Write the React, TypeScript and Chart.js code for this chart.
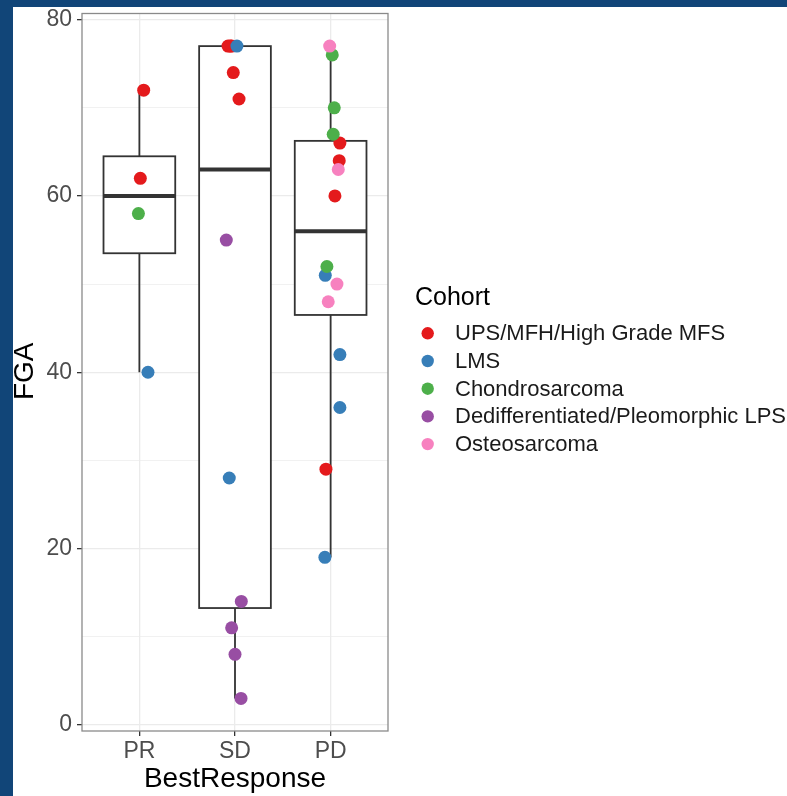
import React, { useEffect, useRef } from 'react';
import { Chart, registerables } from 'chart.js';

Chart.register(...registerables);

const categories = ['PR', 'SD', 'PD'];
const cohortNames = [
  'UPS/MFH/High Grade MFS',
  'LMS',
  'Chondrosarcoma',
  'Dedifferentiated/Pleomorphic LPS',
  'Osteosarcoma',
];
const cohortColors = ['#E41A1C', '#377EB8', '#4DAF4A', '#984EA3', '#F781BF'];

const upsResponse = ['PR', 'PR', 'SD', 'SD', 'SD', 'SD', 'SD', 'PD', 'PD', 'PD', 'PD'];
const upsFGA = [72, 62, 77, 77, 77, 74, 71, 66, 64, 60, 29];
const upsJitter = [0.045, 0.01, -0.073, -0.05, -0.035, -0.018, 0.042, 0.097, 0.09, 0.045, -0.049];

const lmsResponse = ['PR', 'SD', 'SD', 'PD', 'PD', 'PD', 'PD'];
const lmsFGA = [40, 77, 28, 51, 42, 36, 19];
const lmsJitter = [0.09, 0.02, -0.06, -0.056, 0.097, 0.097, -0.06];

const chondroResponse = ['PR', 'PD', 'PD', 'PD', 'PD'];
const chondroFGA = [58, 76, 70, 67, 52];
const chondroJitter = [-0.01, 0.017, 0.038, 0.027, -0.039];

const lpsResponse = ['SD', 'SD', 'SD', 'SD', 'SD'];
const lpsFGA = [55, 14, 11, 8, 3];
const lpsJitter = [-0.091, 0.066, -0.035, 0.0, 0.063];

const osteoResponse = ['PD', 'PD', 'PD', 'PD'];
const osteoFGA = [77, 63, 50, 48];
const osteoJitter = [-0.01, 0.08, 0.066, -0.025];

const yTicks = [0, 10, 20, 30, 40, 50, 60, 70, 80];

const cohortResponses = [upsResponse, lmsResponse, chondroResponse, lpsResponse, osteoResponse];
const cohortFGA = [upsFGA, lmsFGA, chondroFGA, lpsFGA, osteoFGA];
const cohortJitter = [upsJitter, lmsJitter, chondroJitter, lpsJitter, osteoJitter];

const FONT = "'Liberation Sans', Arial, sans-serif";

function quantile(sorted: number[], p: number) {
  const h = (sorted.length - 1) * p;
  const lo = Math.floor(h);
  const hi = Math.ceil(h);
  return sorted[lo] + (h - lo) * (sorted[hi] - sorted[lo]);
}

function boxStats(catIdx: number) {
  const cat = categories[catIdx];
  const vals: number[] = [];
  cohortResponses.forEach((resp, c) => {
    resp.forEach((r, i) => {
      if (r === cat) vals.push(cohortFGA[c][i]);
    });
  });
  vals.sort((a, b) => a - b);
  const q1 = quantile(vals, 0.25);
  const med = quantile(vals, 0.5);
  const q3 = quantile(vals, 0.75);
  const iqr = q3 - q1;
  const lo = Math.min(...vals.filter((v) => v >= q1 - 1.5 * iqr));
  const hi = Math.max(...vals.filter((v) => v <= q3 + 1.5 * iqr));
  return { q1, med, q3, lo, hi };
}

const boxPlugin = {
  id: 'boxes',
  beforeDatasetsDraw(chart: any) {
    const { ctx, scales } = chart;
    const xs = scales.x;
    const ys = scales.y;
    ctx.save();
    ctx.strokeStyle = '#333333';
    categories.forEach((_, i) => {
      const s = boxStats(i);
      const xc = xs.getPixelForValue(i + 1);
      const xl = xs.getPixelForValue(i + 1 - 0.375);
      const xr = xs.getPixelForValue(i + 1 + 0.375);
      const yq1 = ys.getPixelForValue(s.q1);
      const yq3 = ys.getPixelForValue(s.q3);
      const ymed = ys.getPixelForValue(s.med);
      const ylo = ys.getPixelForValue(s.lo);
      const yhi = ys.getPixelForValue(s.hi);
      ctx.lineWidth = 1.8;
      ctx.beginPath();
      ctx.moveTo(xc, yq3);
      ctx.lineTo(xc, yhi);
      ctx.moveTo(xc, yq1);
      ctx.lineTo(xc, ylo);
      ctx.stroke();
      ctx.fillStyle = '#ffffff';
      ctx.fillRect(xl, yq3, xr - xl, yq1 - yq3);
      ctx.strokeRect(xl, yq3, xr - xl, yq1 - yq3);
      ctx.lineWidth = 4;
      ctx.beginPath();
      ctx.moveTo(xl, ymed);
      ctx.lineTo(xr, ymed);
      ctx.stroke();
    });
    ctx.restore();
  },
};

const decorPlugin = {
  id: 'decor',
  afterDraw(chart: any) {
    const { ctx, chartArea } = chart;
    ctx.save();
    // panel border
    ctx.strokeStyle = '#8a8a8a';
    ctx.lineWidth = 1.3;
    ctx.strokeRect(chartArea.left, chartArea.top, chartArea.right - chartArea.left, chartArea.bottom - chartArea.top);

    // axis titles
    ctx.fillStyle = '#000000';
    ctx.font = `28px ${FONT}`;
    ctx.textAlign = 'center';
    ctx.textBaseline = 'alphabetic';
    ctx.fillText('BestResponse', (chartArea.left + chartArea.right) / 2, 780);
    ctx.save();
    ctx.translate(20, (chartArea.top + chartArea.bottom) / 2 - 1);
    ctx.rotate(-Math.PI / 2);
    ctx.fillText('FGA', 0, 0);
    ctx.restore();

    // legend
    ctx.textAlign = 'left';
    ctx.textBaseline = 'middle';
    ctx.font = `25px ${FONT}`;
    ctx.fillText('Cohort', 402, 291);
    ctx.font = `22px ${FONT}`;
    chart.data.datasets.forEach((ds: any, i: number) => {
      const y = 326.3 + i * 27.7;
      ctx.fillStyle = ds.backgroundColor;
      ctx.beginPath();
      ctx.arc(414.7, y, 6.2, 0, Math.PI * 2);
      ctx.fill();
      ctx.fillStyle = '#1a1a1a';
      ctx.fillText(ds.label, 442, y + 1);
    });
    ctx.restore();
  },
};

export default function App() {
  const ref = useRef<HTMLCanvasElement | null>(null);

  useEffect(() => {
    if (!ref.current) return;
    const datasets = cohortNames.map((name, c) => ({
      label: name,
      data: cohortResponses[c].map((r, i) => ({
        x: categories.indexOf(r) + 1 + cohortJitter[c][i],
        y: cohortFGA[c][i],
      })),
      backgroundColor: cohortColors[c],
      borderColor: cohortColors[c],
      borderWidth: 0,
      pointRadius: 6.5,
      pointHoverRadius: 6.5,
      order: cohortNames.length - c,
    }));

    const chart = new Chart(ref.current, {
      type: 'scatter',
      data: { datasets },
      options: {
        animation: false,
        responsive: false,
        maintainAspectRatio: false,
        events: [],
        layout: { padding: { left: 0, top: 5, right: 399, bottom: 0 } },
        plugins: {
          legend: { display: false },
          tooltip: { enabled: false },
        },
        scales: {
          x: {
            type: 'linear',
            min: 0.4,
            max: 3.6,
            afterBuildTicks: (s: any) => {
              s.ticks = categories.map((_, i) => ({ value: i + 1 }));
            },
            afterFit: (s: any) => {
              s.height = 65;
              s.paddingLeft = 0;
              s.paddingRight = 0;
            },
            ticks: {
              autoSkip: false,
              maxRotation: 0,
              padding: 2,
              color: '#4d4d4d',
              font: { family: FONT, size: 23 },
              callback: (v: any) => categories[Math.round(Number(v)) - 1] ?? '',
            },
            grid: {
              color: '#ebebeb',
              lineWidth: 1.3,
              tickColor: '#333333',
              tickLength: 5,
              tickWidth: 1.3,
            },
            border: { display: false },
          },
          y: {
            type: 'linear',
            min: -0.7,
            max: 80.7,
            afterBuildTicks: (s: any) => {
              s.ticks = yTicks.map((v) => ({ value: v }));
            },
            afterFit: (s: any) => {
              s.width = 69;
              s.paddingTop = 0;
              s.paddingBottom = 0;
            },
            ticks: {
              autoSkip: false,
              padding: 5,
              color: '#4d4d4d',
              font: { family: FONT, size: 23 },
              callback: (v: any) => (Number(v) % 20 === 0 ? String(v) : ''),
            },
            grid: {
              color: '#ebebeb',
              lineWidth: (ctx: any) => (ctx.tick && ctx.tick.value % 20 === 0 ? 1.3 : 0.7),
              tickColor: (ctx: any) => (ctx.tick && ctx.tick.value % 20 === 0 ? '#333333' : 'rgba(0,0,0,0)'),
              tickLength: 5,
              tickWidth: 1.3,
            },
            border: { display: false },
          },
        },
      },
      plugins: [boxPlugin, decorPlugin],
    } as any);
    return () => chart.destroy();
  }, []);

  return (
    <div
      style={{
        position: 'absolute',
        left: 0,
        top: 0,
        width: 787,
        height: 796,
        boxSizing: 'border-box',
        background: '#ffffff',
        borderLeft: '13px solid #114578',
        borderTop: '7px solid #114578',
        overflow: 'hidden',
      }}
    >
      <canvas ref={ref} width={774} height={789} style={{ display: 'block', width: 774, height: 789 }} />
    </div>
  );
}
